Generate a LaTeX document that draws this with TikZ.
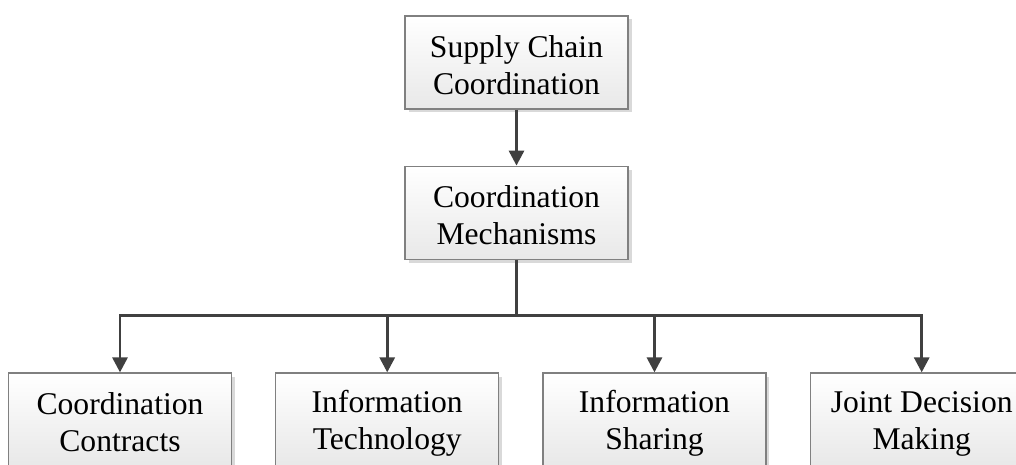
\documentclass[tikz,border=0pt]{standalone}
\usepackage{fontspec}
\setmainfont{Liberation Serif}
\usepackage{tikz}
\usetikzlibrary{calc,shadows,arrows.meta}
\usetikzlibrary{positioning}

% struts for the first and the last line of a box
\newcommand{\topstrut}{\rule{0pt}{16.5pt}}
\newcommand{\botstrut}{\rule[-1.5pt]{0pt}{1.5pt}}

\begin{document}
\begin{tikzpicture}[block/.style={rectangle, draw=black!50, line width=0.7pt, top color=white, bottom color=black!9,
            drop shadow={shadow xshift=0.07cm, shadow yshift=-0.07cm, fill=black!15, opacity=1},
            minimum width=4.46cm, minimum height=1.86cm, align=center, inner sep=0pt,
            font=\fontsize{18}{21}\selectfont},
        link/.style={draw=black!75, line width=1.7pt},
        every node/.style={node distance=1.12cm and 0.86cm}
        ]
        \useasboundingbox (0,0) rectangle (20.32,-9.3);
        \clip (0,0) rectangle (20.32,-9.3);

        \node[block] (chain) at (10.33,-1.25) {\topstrut Supply Chain\\Coordination\botstrut};
        \node[block, below=of chain] (mech) {\topstrut Coordination\\Mechanisms\botstrut};
        \draw[link, -{Triangle[width=0.3cm, length=0.3cm]}] (chain) -- (mech);

        % branching point under the mechanisms box
        \coordinate[below=1.12cm of mech.south] (split);
        \draw[link] (mech.south) -- (split);

        \def\prev{contracts}
        \foreach \name/\one/\two [count=\i from 0, remember=\name as \prev] in
            {contracts/Coordination/Contracts, tech/Information/Technology,
             sharing/Information/Sharing, joint/Joint Decision/Making} {
            \ifnum \i = 0
            \node[block] (\name) at (2.4,-8.39) {\topstrut\one\\\two\botstrut};
            \else
            \node[block, right=of \prev] (\name) {\topstrut\one\\\two\botstrut};
            \fi
            % arrow from the branch line down to the box
            \draw[link, -{Triangle[width=0.3cm, length=0.3cm]}] (split) -| (\name.north);
        }
\end{tikzpicture}
\end{document}
